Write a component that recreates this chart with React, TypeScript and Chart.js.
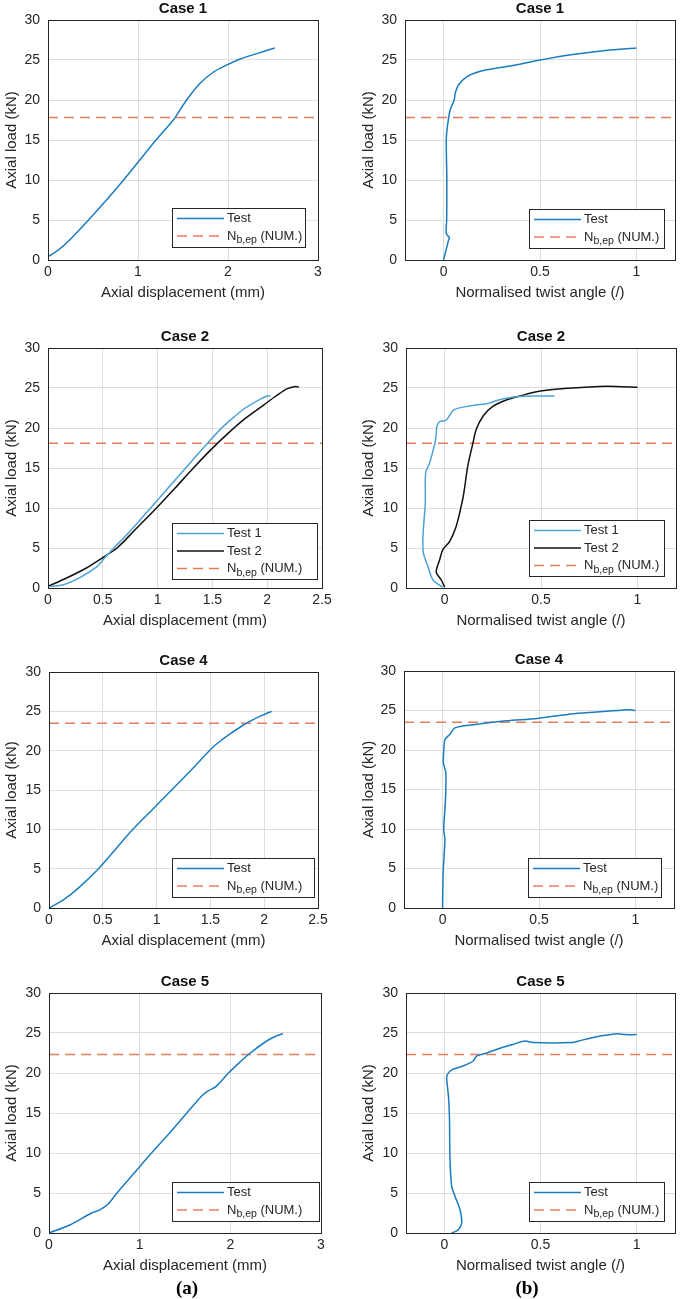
import React, { useEffect, useRef } from 'react';
import { Chart, registerables } from 'chart.js';

Chart.register(...registerables);

// ---------------- axes / tick labels ----------------
const loadTicks = [0, 5, 10, 15, 20, 25, 30];
const loadRange = [0, 30];
const dispTicks3mm = [0, 1, 2, 3];
const dispTicks25mm = [0, 0.5, 1, 1.5, 2, 2.5];
const twistTicks = [0, 0.5, 1];
const twistRange = [-0.2, 1.2];

const caseNames = ['Case 1', 'Case 2', 'Case 4', 'Case 5'];
const nbEpLevels = [17.8, 18.1, 23.5, 22.3]; // kN, N_b,ep (NUM.)

// ---------------- Case 1 ----------------
const case1DispX = [0, 0.12, 0.24, 0.45, 0.65, 0.84, 1.02, 1.2, 1.37, 1.4, 1.54, 1.69, 1.84, 1.99, 2.13, 2.32, 2.52];
const case1DispLoad = [0.4, 1.3, 2.5, 5.0, 7.5, 10.0, 12.5, 15.0, 17.2, 17.6, 20.0, 22.1, 23.5, 24.4, 25.1, 25.8, 26.5];
const case1TwistX = [0, 0.026, 0.03, 0.014, 0.016, 0.017, 0.014, 0.02, 0.034, 0.055, 0.06, 0.078, 0.12, 0.19, 0.28, 0.36, 0.5, 0.67, 0.84, 1.0];
const case1TwistLoad = [0, 2.5, 2.8, 3.3, 5.0, 10.0, 15.0, 16.7, 18.75, 20.0, 20.8, 21.9, 22.9, 23.6, 24.0, 24.3, 25.0, 25.7, 26.2, 26.5];

// ---------------- Case 2 ----------------
const case2Test1DispX = [0.02, 0.14, 0.29, 0.44, 0.52, 0.6, 0.7, 0.82, 0.93, 1.09, 1.25, 1.41, 1.57, 1.69, 1.8, 1.91, 2.0, 2.03];
const case2Test1DispLoad = [0.2, 0.4, 1.3, 2.6, 3.8, 5.0, 6.4, 8.2, 9.9, 12.4, 14.9, 17.4, 19.8, 21.3, 22.5, 23.4, 24.0, 24.0];
const case2Test2DispX = [0, 0.17, 0.35, 0.5, 0.63, 0.81, 0.99, 1.16, 1.32, 1.48, 1.64, 1.8, 1.97, 2.08, 2.18, 2.26, 2.29];
const case2Test2DispLoad = [0.2, 1.25, 2.5, 3.8, 5.0, 7.5, 10.0, 12.5, 14.9, 17.2, 19.3, 21.2, 22.9, 24.0, 24.9, 25.2, 25.1];
const case2Test1TwistX = [-0.01, -0.06, -0.086, -0.11, -0.112, -0.1, -0.098, -0.078, -0.05, -0.043, -0.04, -0.026, 0.009, 0.05, 0.147, 0.23, 0.28, 0.37, 0.47, 0.57];
const case2Test1TwistLoad = [0.1, 1.0, 2.7, 4.4, 6.5, 10.6, 14.4, 15.6, 18.1, 19.4, 20.2, 20.8, 21.0, 22.3, 22.8, 23.1, 23.5, 23.9, 24.0, 24.0];
const case2Test2TwistX = [0, -0.017, -0.043, -0.04, -0.026, -0.009, 0.026, 0.06, 0.086, 0.1, 0.12, 0.147, 0.164, 0.2, 0.25, 0.32, 0.39, 0.49, 0.66, 0.8, 0.89, 1.0];
const case2Test2TwistLoad = [0.1, 1.0, 1.9, 2.5, 3.5, 4.8, 5.8, 7.7, 10.2, 11.9, 15.2, 18.1, 19.8, 21.5, 22.7, 23.5, 24.0, 24.6, 25.0, 25.2, 25.2, 25.1];

// ---------------- Case 4 ----------------
const case4DispX = [0, 0.13, 0.27, 0.46, 0.62, 0.78, 0.96, 1.14, 1.32, 1.49, 1.58, 1.68, 1.8, 1.92, 2.0, 2.07];
const case4DispLoad = [0, 1.0, 2.5, 5.0, 7.5, 10.0, 12.5, 15.0, 17.5, 20.0, 21.1, 22.1, 23.2, 24.1, 24.6, 25.0];
const case4TwistX = [0, 0.003, 0.012, 0.006, 0.015, 0.017, 0.004, 0.007, 0.012, 0.038, 0.064, 0.16, 0.33, 0.49, 0.68, 0.85, 0.97, 1.0];
const case4TwistLoad = [0, 4.4, 8.7, 9.9, 13.7, 17.1, 18.4, 20.1, 21.3, 22.0, 22.8, 23.2, 23.7, 24.0, 24.6, 24.9, 25.1, 25.0];

// ---------------- Case 5 ----------------
const case5DispX = [0, 0.23, 0.47, 0.56, 0.65, 0.75, 0.94, 1.13, 1.33, 1.52, 1.7, 1.76, 1.84, 1.98, 2.1, 2.22, 2.4, 2.5, 2.58];
const case5DispLoad = [0, 1.0, 2.5, 2.9, 3.6, 5.0, 7.5, 10.0, 12.5, 15.0, 17.3, 17.8, 18.3, 20.0, 21.3, 22.5, 24.0, 24.6, 24.9];
const case5TwistX = [0.038, 0.072, 0.09, 0.081, 0.055, 0.038, 0.029, 0.026, 0.021, 0.012, 0.015, 0.038, 0.1, 0.15, 0.167, 0.22, 0.29, 0.36, 0.42, 0.46, 0.665, 0.7, 0.785, 0.9, 0.94, 1.0];
const case5TwistLoad = [0, 0.4, 1.25, 2.9, 4.6, 5.8, 9.2, 14.6, 17.1, 19.2, 19.8, 20.4, 20.9, 21.5, 22.1, 22.5, 23.1, 23.6, 24.0, 23.8, 23.8, 24.0, 24.5, 24.9, 24.8, 24.8];

// ---------------- styles ----------------
const BLUE = '#1C7CC0';
const LIGHT_BLUE = '#4CA3D6';
const BLACK = '#111111';
const ORANGE = '#E2805E';
const GRID = '#DEDEDE';
const INK = '#262626';
const FONT = "'Liberation Sans', Arial, Helvetica, sans-serif";

type Series = { label: string; x: number[]; y: number[]; color: string };
type Panel = {
  title: string;
  xTitle: string;
  xRange: number[];
  xTicks: number[];
  series: Series[];
  level: number;
};
type Box = { l: number; t: number; r: number; b: number; col: 0 | 1; legW: number; legR: number; legB: number };

const DISP_TITLE = 'Axial displacement (mm)';
const TWIST_TITLE = 'Normalised twist angle (/)';
const LOAD_TITLE = 'Axial load (kN)';
const NB_LABEL = 'N_{b,ep} (NUM.)';

const panels: Panel[] = [
  { title: caseNames[0], xTitle: DISP_TITLE, xRange: [0, 3], xTicks: dispTicks3mm, level: nbEpLevels[0],
    series: [{ label: 'Test', x: case1DispX, y: case1DispLoad, color: BLUE }] },
  { title: caseNames[0], xTitle: TWIST_TITLE, xRange: twistRange, xTicks: twistTicks, level: nbEpLevels[0],
    series: [{ label: 'Test', x: case1TwistX, y: case1TwistLoad, color: BLUE }] },
  { title: caseNames[1], xTitle: DISP_TITLE, xRange: [0, 2.5], xTicks: dispTicks25mm, level: nbEpLevels[1],
    series: [
      { label: 'Test 1', x: case2Test1DispX, y: case2Test1DispLoad, color: LIGHT_BLUE },
      { label: 'Test 2', x: case2Test2DispX, y: case2Test2DispLoad, color: BLACK },
    ] },
  { title: caseNames[1], xTitle: TWIST_TITLE, xRange: twistRange, xTicks: twistTicks, level: nbEpLevels[1],
    series: [
      { label: 'Test 1', x: case2Test1TwistX, y: case2Test1TwistLoad, color: LIGHT_BLUE },
      { label: 'Test 2', x: case2Test2TwistX, y: case2Test2TwistLoad, color: BLACK },
    ] },
  { title: caseNames[2], xTitle: DISP_TITLE, xRange: [0, 2.5], xTicks: dispTicks25mm, level: nbEpLevels[2],
    series: [{ label: 'Test', x: case4DispX, y: case4DispLoad, color: BLUE }] },
  { title: caseNames[2], xTitle: TWIST_TITLE, xRange: twistRange, xTicks: twistTicks, level: nbEpLevels[2],
    series: [{ label: 'Test', x: case4TwistX, y: case4TwistLoad, color: BLUE }] },
  { title: caseNames[3], xTitle: DISP_TITLE, xRange: [0, 3], xTicks: dispTicks3mm, level: nbEpLevels[3],
    series: [{ label: 'Test', x: case5DispX, y: case5DispLoad, color: BLUE }] },
  { title: caseNames[3], xTitle: TWIST_TITLE, xRange: twistRange, xTicks: twistTicks, level: nbEpLevels[3],
    series: [{ label: 'Test', x: case5TwistX, y: case5TwistLoad, color: BLUE }] },
];

const layout: Box[] = [
  { l: 48, t: 20, r: 318, b: 260, col: 0, legW: 134, legR: 12, legB: 12 },
  { l: 405, t: 20, r: 675, b: 260, col: 1, legW: 136, legR: 10, legB: 11 },
  { l: 48, t: 348, r: 322, b: 588, col: 0, legW: 146, legR: 4, legB: 8 },
  { l: 406, t: 348, r: 676, b: 588, col: 1, legW: 136, legR: 11, legB: 11 },
  { l: 49, t: 672, r: 318, b: 908, col: 0, legW: 143, legR: 3, legB: 10 },
  { l: 404, t: 671, r: 674, b: 908, col: 1, legW: 134, legR: 12, legB: 10 },
  { l: 49, t: 993, r: 321, b: 1233, col: 0, legW: 148, legR: 1, legB: 11 },
  { l: 406, t: 993, r: 675, b: 1233, col: 1, legW: 136, legR: 10, legB: 11 },
];

function drawRich(ctx: CanvasRenderingContext2D, text: string, x: number, y: number) {
  const parts = text.split(/(_\{[^}]*\})/).filter((p) => p.length > 0);
  let cx = x;
  ctx.textAlign = 'left';
  ctx.textBaseline = 'middle';
  ctx.fillStyle = INK;
  for (const p of parts) {
    if (p.startsWith('_{')) {
      const s = p.slice(2, -1);
      ctx.font = `10.5px ${FONT}`;
      ctx.fillText(s, cx, y + 4.5);
      cx += ctx.measureText(s).width;
    } else {
      ctx.font = `13px ${FONT}`;
      ctx.fillText(p, cx, y);
      cx += ctx.measureText(p).width;
    }
  }
}

function PanelChart({ panel, box }: { panel: Panel; box: Box }) {
  const ref = useRef<HTMLCanvasElement | null>(null);
  const cLeft = box.col === 0 ? 0 : 340;
  const cWidth = box.col === 0 ? 340 : 345;
  const cTop = box.t - 24;
  const cHeight = box.b + 46 - cTop;

  useEffect(() => {
    const canvas = ref.current;
    if (!canvas) return;
    const datasets: any[] = [
      ...panel.series.map((s) => ({
        label: s.label,
        data: s.x.map((xv, i) => ({ x: xv, y: s.y[i] })),
        borderColor: s.color,
        borderWidth: 1.5,
        pointRadius: 0,
        tension: 0.3,
        fill: false,
      })),
      {
        label: NB_LABEL,
        data: [
          { x: panel.xRange[0], y: panel.level },
          { x: panel.xRange[1], y: panel.level },
        ],
        borderColor: ORANGE,
        borderWidth: 1.5,
        borderDash: [10, 6],
        pointRadius: 0,
        tension: 0,
        fill: false,
      },
    ];

    const decor = {
      id: 'decor',
      afterDatasetsDraw(chart: any) {
        const ctx: CanvasRenderingContext2D = chart.ctx;
        const a = chart.chartArea;
        ctx.save();
        ctx.strokeStyle = INK;
        ctx.lineWidth = 1;
        ctx.setLineDash([]);
        ctx.strokeRect(a.left + 0.5, a.top + 0.5, a.right - a.left, a.bottom - a.top);
        const items = chart.data.datasets;
        const n = items.length;
        const rowH = 17.5;
        const h = Math.round(22 + (n - 1) * rowH);
        const w = box.legW;
        const x0 = Math.round(a.right - box.legR - w);
        const y0 = Math.round(a.bottom - box.legB - h);
        ctx.fillStyle = '#ffffff';
        ctx.fillRect(x0, y0, w, h);
        ctx.strokeStyle = INK;
        ctx.strokeRect(x0 + 0.5, y0 + 0.5, w - 1, h - 1);
        items.forEach((ds: any, i: number) => {
          const cy = y0 + 10.5 + i * rowH;
          ctx.beginPath();
          ctx.setLineDash(ds.borderDash || []);
          ctx.strokeStyle = ds.borderColor;
          ctx.lineWidth = 1.5;
          ctx.moveTo(x0 + 5, cy);
          ctx.lineTo(x0 + 52, cy);
          ctx.stroke();
          ctx.setLineDash([]);
          drawRich(ctx, ds.label, x0 + 55, cy);
        });
        ctx.restore();
      },
      afterDraw(chart: any) {
        const ctx: CanvasRenderingContext2D = chart.ctx;
        const a = chart.chartArea;
        ctx.save();
        ctx.font = `bold 15px ${FONT}`;
        ctx.fillStyle = '#111111';
        ctx.textAlign = 'center';
        ctx.textBaseline = 'middle';
        ctx.fillText(panel.title, (a.left + a.right) / 2, a.top - 11.5);
        ctx.restore();
      },
    };

    const chart = new Chart(canvas, {
      type: 'line',
      data: { datasets },
      plugins: [decor],
      options: {
        animation: false,
        responsive: false,
        events: [],
        layout: { padding: { left: 0, top: box.t - cTop, right: cLeft + cWidth - box.r, bottom: 0 } },
        plugins: { legend: { display: false }, tooltip: { enabled: false }, title: { display: false } },
        scales: {
          x: {
            type: 'linear',
            min: panel.xRange[0],
            max: panel.xRange[1],
            afterBuildTicks: (s: any) => {
              s.ticks = panel.xTicks.map((v) => ({ value: v }));
            },
            afterFit: (s: any) => {
              s.height = cTop + cHeight - box.b;
            },
            grid: { color: GRID, lineWidth: 1, drawTicks: false },
            border: { display: false },
            ticks: {
              padding: 4,
              autoSkip: false,
              maxRotation: 0,
              color: INK,
              font: { family: FONT, size: 14 },
              callback: (v: any) => String(v),
            },
            title: {
              display: true,
              text: panel.xTitle,
              color: INK,
              font: { family: FONT, size: 15 },
              padding: { top: 0, bottom: 4 },
            },
          },
          y: {
            type: 'linear',
            min: loadRange[0],
            max: loadRange[1],
            afterBuildTicks: (s: any) => {
              s.ticks = loadTicks.map((v) => ({ value: v }));
            },
            afterFit: (s: any) => {
              s.width = box.l - cLeft;
            },
            grid: { color: GRID, lineWidth: 1, drawTicks: false },
            border: { display: false },
            ticks: {
              padding: 8,
              color: INK,
              font: { family: FONT, size: 14 },
              callback: (v: any) => String(v),
            },
            title: {
              display: true,
              text: LOAD_TITLE,
              color: INK,
              font: { family: FONT, size: 15 },
              padding: { top: box.col === 0 ? 3 : 20, bottom: 0 },
            },
          },
        },
      } as any,
    });
    return () => chart.destroy();
  }, [panel, box]);

  return (
    <canvas
      ref={ref}
      width={cWidth}
      height={cHeight}
      style={{ position: 'absolute', left: cLeft, top: cTop, width: cWidth, height: cHeight }}
    />
  );
}

const figureLabels = ['(a)', '(b)'];
const figureLabelCenters = [187, 527];

export default function App() {
  return (
    <div
      style={{ position: 'absolute', left: 0, top: 0, width: 685, height: 1299, overflow: 'hidden', background: '#ffffff' }}
    >
      {panels.map((p, i) => (
        <PanelChart key={i} panel={p} box={layout[i]} />
      ))}
      {figureLabels.map((t, i) => (
        <div
          key={t}
          style={{
            position: 'absolute',
            left: figureLabelCenters[i] - 50,
            width: 100,
            top: 1277,
            lineHeight: '22px',
            textAlign: 'center',
            font: "bold 19px 'Liberation Serif', 'Times New Roman', serif",
            color: '#000',
          }}
        >
          {t}
        </div>
      ))}
    </div>
  );
}
